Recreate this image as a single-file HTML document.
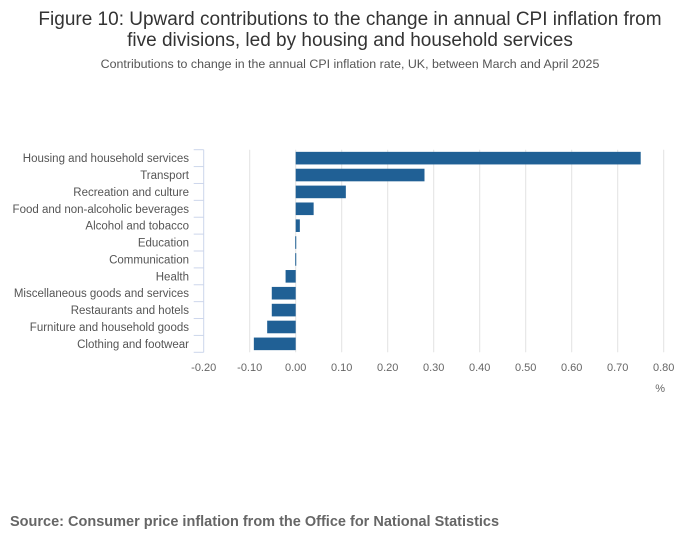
<!DOCTYPE html>
<html><head><meta charset="utf-8"><style>
body{margin:0;background:#fff;width:700px;height:549px;overflow:hidden;font-family:"Liberation Sans",sans-serif}
</style></head><body>
<svg width="700" height="549" style="position:absolute;left:0;top:0">
<text x="350" y="25" text-anchor="middle" font-size="19" fill="#333">Figure 10: Upward contributions to the change in annual CPI inflation from</text>
<text x="350" y="46" text-anchor="middle" font-size="19" fill="#333">five divisions, led by housing and household services</text>
<text x="350" y="68" text-anchor="middle" font-size="12.4" fill="#555">Contributions to change in the annual CPI inflation rate, UK, between March and April 2025</text>
<g id="plot"></g>
<text x="665" y="392" text-anchor="end" font-size="11" fill="#666">%</text>
<text x="10" y="526" font-size="14.5" font-weight="bold" fill="#666">Source: Consumer price inflation from the Office for National Statistics</text>
</svg>
<script>
const categories=["Housing and household services","Transport","Recreation and culture","Food and non-alcoholic beverages","Alcohol and tobacco","Education","Communication","Health","Miscellaneous goods and services","Restaurants and hotels","Furniture and household goods","Clothing and footwear"];
const values=[0.75,0.28,0.109,0.039,0.009,-0.001,-0.001,-0.022,-0.052,-0.052,-0.062,-0.091];
const ticks=[-0.2,-0.1,0,0.1,0.2,0.3,0.4,0.5,0.6,0.7,0.8];
const tickLabels=["-0.20","-0.10","0.00","0.10","0.20","0.30","0.40","0.50","0.60","0.70","0.80"];
const NS="http://www.w3.org/2000/svg";
const g=document.getElementById('plot');
const x0=203.7,x1=663.7,plotTop=149.7,plotBot=352.3,xmin=-0.2,xmax=0.8;
const X=v=>x0+(v-xmin)/(xmax-xmin)*(x1-x0);
const band=(plotBot-plotTop)/categories.length;
function el(t,a){const e=document.createElementNS(NS,t);for(const k in a)e.setAttribute(k,a[k]);g.appendChild(e);return e;}
ticks.forEach((t,i)=>{
 if(i>0){const l=el('line',{x1:X(t),x2:X(t),y1:plotTop,y2:plotBot,stroke:'#e2e2e2','stroke-width':1});
 
 }
 const tx=el('text',{x:X(t),y:371,'text-anchor':'middle','font-size':11,fill:'#666'});
 tx.textContent=tickLabels[i];
 
 
});
const ax=el('line',{x1:x0,x2:x0,y1:plotTop,y2:plotBot,stroke:'#ccd6eb','stroke-width':1});


for(let i=0;i<=categories.length;i++){
 const y=plotTop+i*band;
 const tk=el('line',{x1:x0-10,x2:x0,y1:y,y2:y,stroke:'#ccd6eb','stroke-width':1});
 
 
}
categories.forEach((c,i)=>{
 const yc=plotTop+(i+0.5)*band;
 const t=el('text',{x:189,y:yc+4,'text-anchor':'end','font-size':11.5,fill:'#555'});
 t.textContent=c;
 
 
 const v=values[i];
 const a=Math.min(X(0),X(v)),w=Math.max(Math.abs(X(v)-X(0)),1);
 const r=el('rect',{x:a,y:yc-6.3,width:w,height:12.6,fill:'#206095'});
 
 
});
</script>
</body></html>
